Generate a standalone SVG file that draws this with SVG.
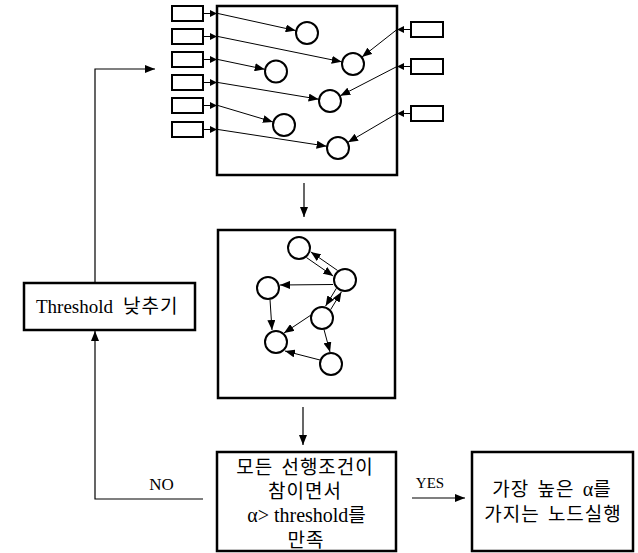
<svg xmlns="http://www.w3.org/2000/svg" width="638" height="553" viewBox="0 0 638 553">
  <style>
    .frame { fill: #fff; stroke: #000; stroke-width: 2.5; }
    .box { fill: #fff; stroke: #000; stroke-width: 2.5; }
    .src { fill: #fff; stroke: #000; stroke-width: 2; }
    .node { fill: #fff; stroke: #000; stroke-width: 2; }
    .edge { fill: none; stroke: #000; stroke-width: 1; }
    .flow { fill: none; stroke: #000; stroke-width: 1.2; }
    .ko { font-family: "Noto Sans CJK KR", "Noto Sans", sans-serif; font-size: 19px; letter-spacing: 1px; word-spacing: 3px; fill: #000; }
    .lat { font-family: "Liberation Serif", "DejaVu Serif", serif; letter-spacing: 0; word-spacing: 0; fill: #000; }
  </style>
  <defs>
    <marker id="head" markerUnits="userSpaceOnUse" markerWidth="10" markerHeight="8" refX="10" refY="4" orient="auto">
      <path d="M0,0 L10,4 L0,8 z" fill="#000"/>
    </marker>
    <marker id="tip" markerUnits="userSpaceOnUse" markerWidth="7" markerHeight="7" refX="7" refY="3.5" orient="auto">
      <path d="M0,0 L7,3.5 L0,7 z" fill="#000"/>
    </marker>
  </defs>

  <!-- input panel: sources feeding condition nodes -->
  <g id="input-panel">
    <rect class="frame" x="217" y="6" width="180" height="169"/>
    <g id="src-left">
      <rect class="src" x="172" y="6" width="31" height="15"/>
      <rect class="src" x="172" y="29" width="31" height="15"/>
      <rect class="src" x="172" y="52" width="31" height="15"/>
      <rect class="src" x="172" y="75" width="31" height="15"/>
      <rect class="src" x="172" y="98" width="31" height="15"/>
      <rect class="src" x="172" y="122" width="31" height="15"/>
    </g>
    <g id="src-right">
      <rect class="src" x="411" y="22" width="32" height="15"/>
      <rect class="src" x="411" y="59" width="32" height="15"/>
      <rect class="src" x="411" y="106" width="32" height="15"/>
    </g>
    <g id="cond-nodes">
      <circle class="node" cx="307" cy="33" r="11"/>
      <circle class="node" cx="353" cy="64" r="11"/>
      <circle class="node" cx="276" cy="71.5" r="11"/>
      <circle class="node" cx="330" cy="101" r="11"/>
      <circle class="node" cx="284" cy="125" r="11"/>
      <circle class="node" cx="338" cy="148" r="11"/>
    </g>
  </g>

  <!-- dependency graph panel -->
  <g id="graph-panel">
    <rect class="frame" x="218" y="230" width="177" height="168"/>
    <circle id="g1" class="node" cx="299" cy="248" r="11"/>
    <circle id="g2" class="node" cx="345" cy="280" r="11"/>
    <circle id="g3" class="node" cx="268" cy="288" r="11"/>
    <circle id="g4" class="node" cx="322" cy="318" r="11"/>
    <circle id="g5" class="node" cx="276" cy="342" r="11"/>
    <circle id="g6" class="node" cx="331" cy="364" r="11"/>
  </g>

  <!-- lower threshold -->
  <g id="lower-threshold">
    <rect class="box" x="24" y="283" width="171" height="47"/>
    <text x="36" y="313"><tspan class="lat" font-size="19" letter-spacing="0.5">Threshold</tspan><tspan class="ko" x="123" letter-spacing="0">낮추기</tspan></text>
  </g>

  <!-- condition check -->
  <g id="check">
    <rect class="box" x="217" y="452" width="179" height="99"/>
    <text class="ko" text-anchor="middle" x="305" y="473.5">모든 선행조건이</text>
    <text class="ko" text-anchor="middle" x="305" y="498">참이면서</text>
    <text class="ko" text-anchor="middle" x="307" y="522"><tspan class="lat" style="font-family:'Liberation Serif',serif" font-size="20">α&gt; threshold</tspan>를</text>
    <text class="ko" text-anchor="middle" x="306" y="546.5">만족</text>
  </g>

  <!-- execute -->
  <g id="execute">
    <rect class="box" x="472" y="452" width="161" height="99"/>
    <text class="ko" text-anchor="middle" x="552" y="495.5">가장 높은 <tspan class="lat" style="font-family:'Liberation Serif',serif" font-size="20">α</tspan>를</text>
    <text class="ko" text-anchor="middle" x="553" y="520.5">가지는 노드실행</text>
  </g>

  <!-- connectors -->
  <g id="connectors">
    <!-- left sources into panel -->
    <path class="edge" marker-end="url(#tip)" d="M203,13.5 H217"/>
    <path class="edge" marker-end="url(#tip)" d="M203,36.5 H217"/>
    <path class="edge" marker-end="url(#tip)" d="M203,59.5 H217"/>
    <path class="edge" marker-end="url(#tip)" d="M203,82.5 H217"/>
    <path class="edge" marker-end="url(#tip)" d="M203,105.5 H217"/>
    <path class="edge" marker-end="url(#tip)" d="M203,129.5 H217"/>
    <path class="edge" marker-end="url(#head)" d="M218,13.5 L295.7,30.6"/>
    <path class="edge" marker-end="url(#head)" d="M218,36.5 L341.7,61.8"/>
    <path class="edge" marker-end="url(#head)" d="M218,59.5 L264.7,69.3"/>
    <path class="edge" marker-end="url(#head)" d="M218,82.5 L318.6,99.2"/>
    <path class="edge" marker-end="url(#head)" d="M218,105.5 L272.9,121.9"/>
    <path class="edge" marker-end="url(#head)" d="M218,129.5 L326.6,146.2"/>
    <!-- right sources into panel -->
    <path class="edge" marker-end="url(#tip)" d="M411,29.5 H397"/>
    <path class="edge" marker-end="url(#tip)" d="M411,66.5 H397"/>
    <path class="edge" marker-end="url(#tip)" d="M411,113.5 H397"/>
    <path class="edge" marker-end="url(#head)" d="M397,29.5 L362,57"/>
    <path class="edge" marker-end="url(#head)" d="M397,66.5 L340.3,95.8"/>
    <path class="edge" marker-end="url(#head)" d="M397,113.5 L348,142.3"/>

    <!-- graph edges -->
    <path class="edge" marker-end="url(#head)" d="M306.4,257.5 L333.2,276.1"/>
    <path class="edge" marker-end="url(#head)" d="M337.6,270.5 L310.8,251.9"/>
    <path class="edge" marker-end="url(#head)" d="M333,284.5 L280,285"/>
    <path class="edge" marker-end="url(#head)" d="M336.4,288.3 L325.6,306.1"/>
    <path class="edge" marker-end="url(#head)" d="M330.6,309.7 L341.4,291.9"/>
    <path class="edge" marker-end="url(#head)" d="M270,299.5 L272,330"/>
    <path class="edge" marker-end="url(#head)" d="M311,315 L284,333"/>
    <path class="edge" marker-end="url(#head)" d="M324,329.5 L330,352"/>
    <path class="edge" marker-end="url(#head)" d="M320,360 L285,351"/>

    <!-- flow between panels -->
    <path class="flow" marker-end="url(#head)" d="M304,183 V217"/>
    <path class="flow" marker-end="url(#head)" d="M303,407 V445"/>
    <path class="flow" marker-end="url(#head)" d="M412,498 H465"/>
    <path class="flow" marker-end="url(#head)" d="M203,499 H95 V331"/>
    <path class="flow" marker-end="url(#head)" d="M95,283 V69 H155"/>

    <text class="lat" x="161.5" y="490" font-size="17" text-anchor="middle" letter-spacing="1">NO</text>
    <text class="lat" x="430" y="488" font-size="15" text-anchor="middle">YES</text>
  </g>
</svg>
